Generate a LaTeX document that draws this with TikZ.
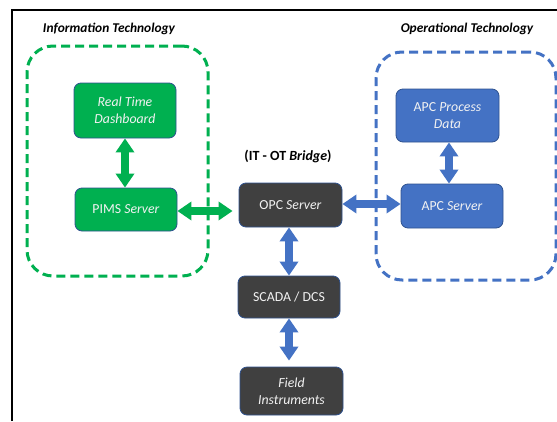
\documentclass[tikz,border=0pt]{standalone}
\usepackage{fontspec}
\setmainfont{Carlito}
\usetikzlibrary{arrows.meta,positioning}
\definecolor{itgreen}{HTML}{00B050}
\definecolor{otblue}{HTML}{4472C4}
\definecolor{darkbox}{HTML}{404040}
\definecolor{edgeblue}{HTML}{2F528F}
\definecolor{boxtext}{HTML}{F2F2F2}
\tikzset{
  box/.style={rounded corners=7pt, draw=edgeblue, line width=0.8pt, text=boxtext,
    font=\fontsize{13.8}{17}\selectfont, align=center, inner sep=0pt},
  gbox/.style={box, fill=itgreen},
  bbox/.style={box, fill=otblue},
  dbox/.style={box, fill=darkbox},
  region/.style={rounded corners=26pt, line width=3pt, dash pattern=on 9pt off 5pt, inner sep=0pt},
  title/.style={font=\fontsize{13.4}{16}\selectfont\bfseries\itshape, text=black},
  garrow/.style={draw=itgreen, line width=8pt, {Triangle[length=14pt,width=18pt]}-{Triangle[length=14pt,width=18pt]}},
  barrow/.style={draw=otblue, line width=8pt, {Triangle[length=14pt,width=18pt]}-{Triangle[length=14pt,width=18pt]}},
}
\begin{document}
\begin{tikzpicture}[x=1pt,y=-1pt]
\useasboundingbox (0,0) rectangle (557,421);
\fill[white] (0,0) rectangle (557,421);
% frame lines
\coordinate (fa) at (12,421);
\coordinate (fb) at (12,10);
\coordinate (fc) at (557,10);
\draw[line width=1.6pt, black] (fa) -- (fb) -- (fc);

% regions
\node[region, draw=itgreen, minimum width=181pt, minimum height=230pt] (it) at (117.5,161) {};
\node[region, draw=otblue, minimum width=180pt, minimum height=228pt] (ot) at (466,166) {};

% titles
\node[title] (ittitle) at (109,29) {Information Technology};
\node[title] (ottitle) at (467,29) {Operational Technology};
\node[font=\fontsize{14}{16}\selectfont\bfseries] (bridge) at (288,156) {(IT - OT \textit{Bridge})};

% boxes
\node[gbox, minimum width=102pt, minimum height=55pt] (dash) at (125,110.5) {\textit{Real Time}\\\textit{Dashboard}};
\node[gbox, minimum width=102pt, minimum height=43pt] (pims) at (126,209.5) {PIMS \textit{Server}};
\node[dbox, minimum width=103pt, minimum height=44pt] (opc) at (290.5,205) {OPC \textit{Server}};
\node[bbox, minimum width=103pt, minimum height=53pt] (apcd) at (447.5,115.5) {APC \textit{Process}\\\textit{Data}};
\node[bbox, minimum width=102pt, minimum height=44pt] (apcs) at (452,206) {APC \textit{Server}};
\node[dbox, minimum width=102pt, minimum height=42pt] (scada) at (289,297) {SCADA / DCS};
\node[dbox, minimum width=103pt, minimum height=48pt] (field) at (291.5,391) {\textit{Field}\\\textit{Instruments}};

% connectors
\draw[garrow] (dash.south) -- (dash.south |- pims.north);
\draw[garrow, shorten >=6pt] ([yshift=-1.5pt]pims.east) -- ([yshift=-1.5pt]pims.east -| opc.west);
\draw[barrow] ([yshift=1pt]opc.east) -- ([yshift=1pt]opc.east -| apcs.west);
\draw[barrow] ([xshift=1.5pt]apcd.south) -- ([xshift=1.5pt]apcd.south |- apcs.north);
\draw[barrow] ([xshift=-1.5pt]opc.south) -- ([xshift=-1.5pt]opc.south |- scada.north);
\draw[barrow, shorten >=6pt] (scada.south) -- (scada.south |- field.north);
\end{tikzpicture}
\end{document}
